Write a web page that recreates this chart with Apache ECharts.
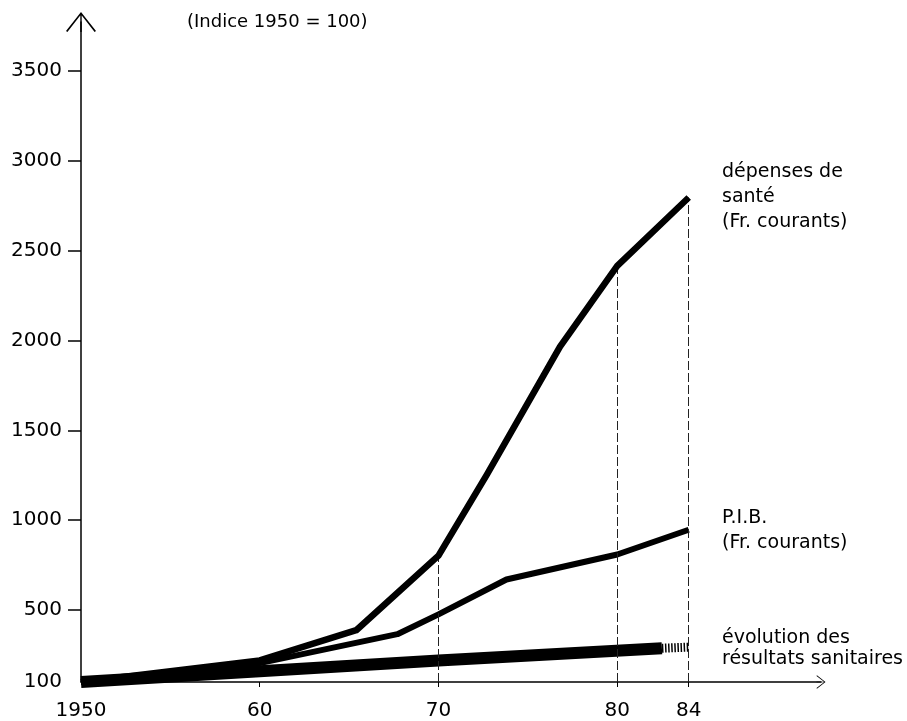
<!DOCTYPE html>
<html>
<head>
<meta charset="utf-8">
<script src="https://cdn.jsdelivr.net/npm/echarts@6/dist/echarts.min.js"></script>
<style>
  html, body { margin: 0; padding: 0; background: #ffffff; }
  #chart { width: 907px; height: 721px; }
</style>
</head>
<body>
<div id="chart"></div>
<script>
// ---- data (index 1950 = 100) ----
const depYears = [1950, 1960, 1965.4, 1970, 1972.7, 1976.8, 1980, 1984];
const depValues = [100, 220, 388, 803, 1252, 1966, 2414, 2795];

const pibYears = [1950, 1960, 1967.7, 1970, 1973.8, 1980, 1984];
const pibValues = [100, 205, 366, 476, 670, 809, 947];

const santeYears = [1950, 1960, 1970, 1982.5];
const santeValues = [100, 160, 219, 288];

const santeHatchYears = [1982.5, 1984];
const santeHatchValues = [288, 294];

const dropYears = [1970, 1980, 1984];

const xTickYears = [1950, 1960, 1970, 1980, 1984];
const yTickValues = [100, 500, 1000, 1500, 2000, 2500, 3000, 3500];

const titleText = '(Indice 1950 = 100)';
const depLabel = 'dépenses de\nsanté\n(Fr. courants)';
const pibLabel = 'P.I.B.\n(Fr. courants)';
const santeLabel = 'évolution des\nrésultats sanitaires';

const pair = (xs, ys) => xs.map((x, i) => [x, ys[i]]);

const FONT = 'DejaVu Sans';
const INK = '#000000';

// open chevron arrow pointing up, with stem
const arrowPath = 'path://M15,0 L30,19 L28.6,20 L15,2.6 L1.4,20 L0,19 Z M14.3,1.5 L15.7,1.5 L15.7,20 L14.3,20 Z';

const chart = echarts.init(document.getElementById('chart'), null, { renderer: 'canvas' });

const option = {
  backgroundColor: '#ffffff',
  animation: false,
  grid: { left: 81, right: 86, top: 22, bottom: 36, containLabel: false },
  xAxis: {
    type: 'value',
    min: 1950,
    max: 1991.4,
    splitLine: { show: false },
    axisLine: {
      show: true,
      onZero: false,
      lineStyle: { color: INK, width: 1.5 },
      symbol: ['none', arrowPath],
      symbolSize: [19, 9]
    },
    axisTick: {
      show: true,
      customValues: [1960, 1970, 1980, 1984],
      length: 5,
      lineStyle: { color: INK, width: 1 }
    },
    axisLabel: {
      show: true,
      customValues: xTickYears,
      formatter: v => (v === 1950 ? '1950' : String(v).slice(2)),
      margin: 19,
      color: INK,
      fontFamily: FONT,
      fontSize: 20
    }
  },
  yAxis: {
    type: 'value',
    min: 100,
    max: 3771,
    splitLine: { show: false },
    axisLine: {
      show: true,
      onZero: false,
      lineStyle: { color: INK, width: 1.5 },
      symbol: ['none', arrowPath],
      symbolSize: [31, 20]
    },
    axisTick: {
      show: true,
      customValues: yTickValues.slice(1),
      length: 13,
      lineStyle: { color: INK, width: 1.5 }
    },
    axisLabel: {
      show: true,
      customValues: yTickValues,
      formatter: v => String(v),
      margin: 19,
      color: INK,
      fontFamily: FONT,
      fontSize: 20
    }
  },
  series: [
    {
      name: 'résultats sanitaires',
      type: 'line',
      data: pair(santeYears, santeValues),
      showSymbol: false,
      symbol: 'none',
      lineStyle: { color: INK, width: 12, cap: 'butt' },
      z: 3
    },
    {
      name: 'résultats sanitaires (hachures)',
      type: 'line',
      data: pair(santeHatchYears, santeHatchValues),
      showSymbol: false,
      symbol: 'none',
      lineStyle: { color: INK, width: 9, type: [1.5, 1.6], cap: 'butt' },
      z: 3
    },
    {
      name: 'P.I.B.',
      type: 'line',
      data: pair(pibYears, pibValues),
      showSymbol: false,
      symbol: 'none',
      lineStyle: { color: INK, width: 6, join: 'round' },
      z: 4
    },
    {
      name: 'dépenses de santé',
      type: 'line',
      data: pair(depYears, depValues),
      showSymbol: false,
      symbol: 'none',
      lineStyle: { color: INK, width: 6.5, join: 'round' },
      z: 5,
      markLine: {
        silent: true,
        symbol: 'none',
        label: { show: false },
        lineStyle: { color: '#222222', width: 1, type: [9, 3] },
        data: dropYears.map(y => [
          { coord: [y, 100] },
          { coord: [y, depValues[depYears.indexOf(y)]] }
        ])
      }
    }
  ],
  graphic: [
    {
      type: 'text',
      style: { text: titleText, x: 187, y: 22, verticalAlign: 'middle', fill: INK, font: '18px "DejaVu Sans"' }
    },
    {
      type: 'text',
      style: { text: depLabel, x: 722, y: 160, lineHeight: 25, verticalAlign: 'top', fill: INK, font: '19px "DejaVu Sans"' }
    },
    {
      type: 'text',
      style: { text: pibLabel, x: 722, y: 506, lineHeight: 25, verticalAlign: 'top', fill: INK, font: '19px "DejaVu Sans"' }
    },
    {
      type: 'text',
      style: { text: santeLabel, x: 722, y: 628, lineHeight: 21, verticalAlign: 'top', fill: INK, font: '19px "DejaVu Sans"' }
    }
  ]
};

chart.setOption(option);
</script>
</body>
</html>
